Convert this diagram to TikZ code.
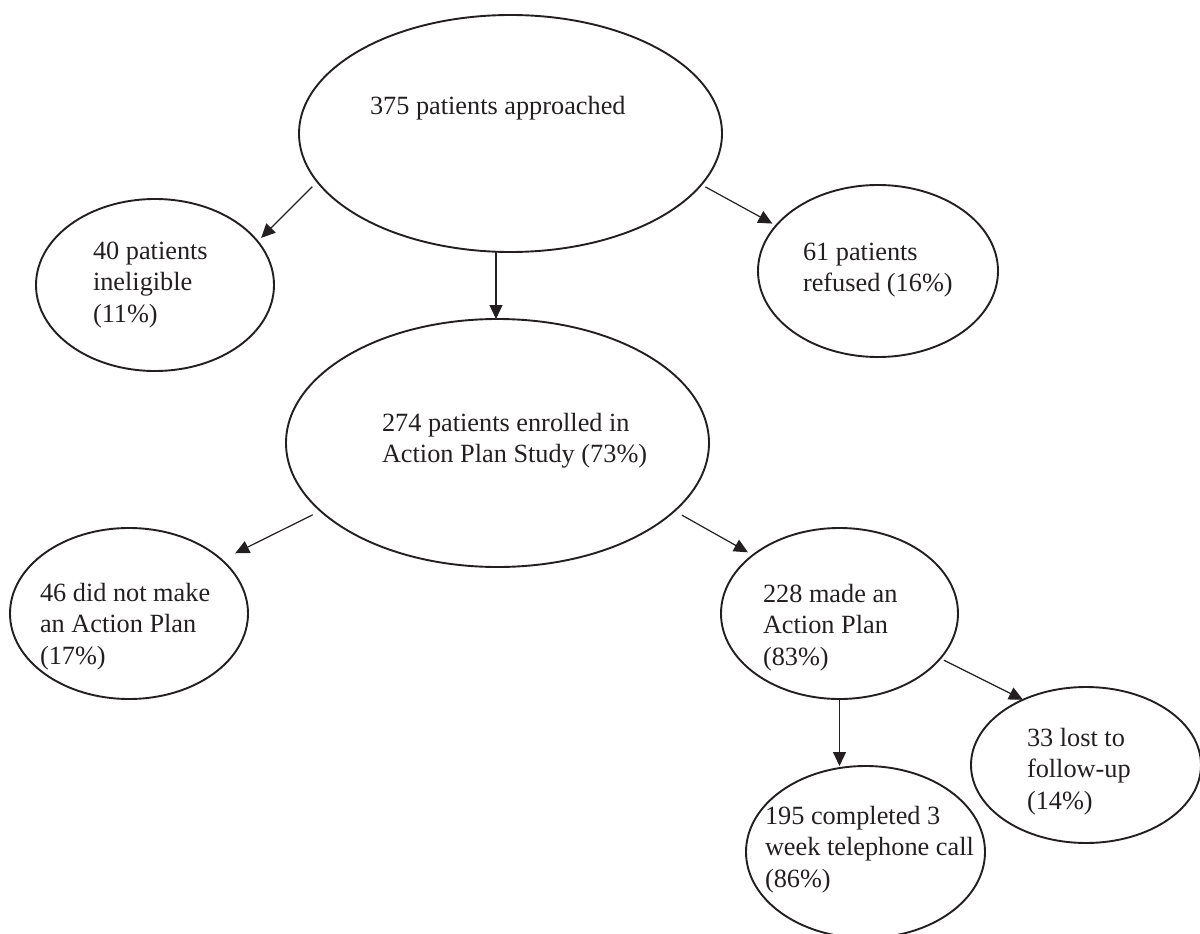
\documentclass[tikz,border=0pt]{standalone}
\usepackage{fontspec}
\setmainfont{Liberation Serif}
\usetikzlibrary{arrows.meta,shapes.geometric}
\definecolor{ink}{HTML}{231F20}
\newcommand\mytab[1]{\begin{tabular}[t]{@{}l@{}}#1\end{tabular}}
\begin{document}
\begin{tikzpicture}[x=1pt,y=-1pt,
  oval/.style={draw=ink, ellipse, line width=1.9pt, inner sep=0pt, outer sep=0pt},
  txt/.style={anchor=base west, inner sep=0pt, outer sep=0pt, font=\fontsize{26.3}{31.6}\selectfont, text=ink},
  arr/.style={draw=ink, line width=1.2pt, -{Triangle[length=14pt,width=13pt]}}]
\useasboundingbox (0,0) rectangle (1200,934);
% ellipses
\node[oval, minimum width=423pt, minimum height=237pt] (top)  at (510.5,133.5) {};
\node[oval, minimum width=238pt, minimum height=172pt] (inel) at (155,285) {};
\node[oval, minimum width=240pt, minimum height=172pt] (ref)  at (878,271) {};
\node[oval, minimum width=423pt, minimum height=248pt] (enr)  at (497.5,443) {};
\node[oval, minimum width=238pt, minimum height=171pt] (dnm)  at (129,613.5) {};
\node[oval, minimum width=237pt, minimum height=171pt] (made) at (839.5,613.5) {};
\node[oval, minimum width=239pt, minimum height=172pt] (comp) at (865.5,852) {};
\node[oval, minimum width=230pt, minimum height=156pt] (lost) at (1086,765) {};
% texts
\node[txt] (t1) at (370,114) {\mytab{375 patients approached}};
\node[txt] (t2) at (93,259) {\mytab{40 patients\\ineligible\\(11\%)}};
\node[txt] (t3) at (803,260) {\mytab{61 patients\\refused (16\%)}};
\node[txt] (t4) at (382,431) {\mytab{274 patients enrolled in\\Action Plan Study (73\%)}};
\node[txt] (t5) at (40,601) {\mytab{46 did not make\\an Action Plan\\(17\%)}};
\node[txt] (t6) at (763,602) {\mytab{228 made an\\Action Plan\\(83\%)}};
\node[txt] (t7) at (765,824) {\mytab{195 completed 3\\week telephone call\\(86\%)}};
\node[txt] (t8) at (1027,746) {\mytab{33 lost to\\follow-up\\(14\%)}};
% connectors
\draw[arr, shorten <=7pt, shorten >=5pt] (top.194.2) -- (inel.23);
\draw[arr] (top.263.5) -- (top.263.5 |- enr.north);
\draw[arr, shorten <=4.7pt, shorten >=4.2pt] (top.345.7) -- (ref.156.4);
\draw[arr, shorten <=8.7pt, shorten >=15pt] (enr.201.1) -- (dnm.30.3);
\draw[arr, shorten <=8.5pt, shorten >=5.7pt] (enr.339.1) -- (made.146.7);
\draw[arr] (made.south) -- (made.south |- comp.north);
\draw[arr, shorten <=4pt] (made.336.9) -- (lost.134.1);
\end{tikzpicture}
\end{document}
